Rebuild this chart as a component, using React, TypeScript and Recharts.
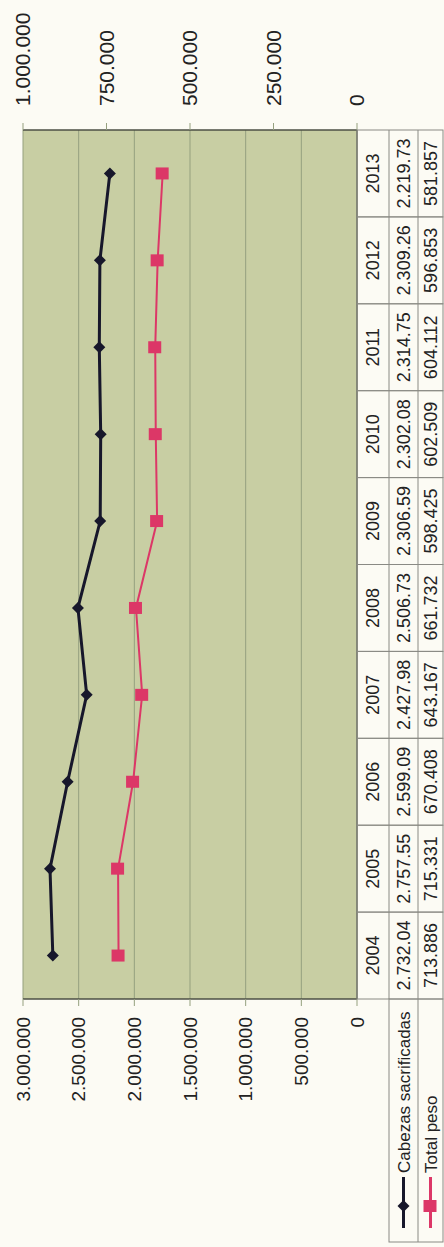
import { CartesianGrid, Line, LineChart, XAxis, YAxis } from "recharts";

const years = ["2004", "2005", "2006", "2007", "2008", "2009", "2010", "2011", "2012", "2013"];
const cabezas = [2732040, 2757550, 2599090, 2427980, 2506730, 2306590, 2302080, 2314750, 2309260, 2219730];
const peso = [713886, 715331, 670408, 643167, 661732, 598425, 602509, 604112, 596853, 581857];
const leftTicks = [0, 500000, 1000000, 1500000, 2000000, 2500000, 3000000];
const rightTicks = [0, 250000, 500000, 750000, 1000000];

const rows = years.map((year, i) => ({ year, cabezas: cabezas[i], peso: peso[i] }));

// chart is drawn landscape and turned a quarter to the left, like the scan
const W = 1247;
const H = 444;
const PLOT_LEFT = 248;
const PLOT_RIGHT = 1117;
const PLOT_TOP = 23;
const PLOT_BOTTOM = 357;
const BAND = (PLOT_RIGHT - PLOT_LEFT) / years.length;
const ROW1 = 389;
const ROW2 = 418;
const ROW3 = 443;

const FONT = '"Liberation Sans", Arial, sans-serif';
const INK = "#222";
const PAGE = "#fcfbf4";
const PLOT_BG = "#c8cea3";
const GRID = "#95a07f";
const FRAME = "#4d4f45";
const TABLE_LINE = "#8a8a84";
const BLACK = "#17172b";
const RED = "#dc3767";

const dots = (v: number) => String(v).replace(/\B(?=(\d{3})+(?!\d))/g, ".");

function Diamond({ cx, cy, r = 6 }: { cx: number; cy: number; r?: number }) {
  return <path d={`M${cx},${cy - r}L${cx + r},${cy}L${cx},${cy + r}L${cx - r},${cy}Z`} fill={BLACK} />;
}

function Square({ cx, cy }: { cx: number; cy: number }) {
  return <rect x={cx - 6} y={cy - 7} width={12} height={13} fill={RED} />;
}

function TableColumn(props: any) {
  const { x, payload } = props;
  const i = years.indexOf(String(payload.value));
  const x0 = x - BAND / 2;
  const txt = { fontFamily: FONT, fontSize: 18, fill: INK, textAnchor: "middle" as const };
  return (
    <g>
      <rect x={x0} y={PLOT_BOTTOM} width={BAND} height={ROW3 - PLOT_BOTTOM} fill="none" stroke={TABLE_LINE} />
      <line x1={x0} x2={x0 + BAND} y1={ROW1} y2={ROW1} stroke={TABLE_LINE} />
      <line x1={x0} x2={x0 + BAND} y1={ROW2} y2={ROW2} stroke={TABLE_LINE} />
      <text x={x} y={(PLOT_BOTTOM + ROW1) / 2 + 6} {...txt}>{years[i]}</text>
      {/* the sheet cut these off at the cell edge */}
      <text x={x} y={(ROW1 + ROW2) / 2 + 6} {...txt}>{dots(cabezas[i]).slice(0, -1)}</text>
      <text x={x} y={(ROW2 + ROW3) / 2 + 6} {...txt}>{dots(peso[i])}</text>
    </g>
  );
}

function LegendColumn() {
  const x0 = 5;
  const mid1 = (ROW1 + ROW2) / 2;
  const mid2 = (ROW2 + ROW3) / 2;
  const txt = { fontFamily: FONT, fontSize: 17, fill: INK };
  return (
    <svg width={W} height={H} style={{ position: "absolute", left: 0, top: 0, pointerEvents: "none" }}>
      <rect x={x0} y={ROW1} width={PLOT_LEFT - x0} height={ROW3 - ROW1} fill="none" stroke={TABLE_LINE} />
      <line x1={x0} x2={PLOT_LEFT} y1={ROW2} y2={ROW2} stroke={TABLE_LINE} />
      <line x1={19} x2={70} y1={mid1} y2={mid1} stroke={BLACK} strokeWidth={3} />
      <Diamond cx={41} cy={mid1} />
      <text x={74} y={mid1 + 6} {...txt}>Cabezas sacrificadas</text>
      <line x1={19} x2={70} y1={mid2} y2={mid2} stroke={RED} strokeWidth={3} />
      <Square cx={41} cy={mid2} />
      <text x={74} y={mid2 + 6} {...txt}>Total peso</text>
    </svg>
  );
}

export default function App() {
  return (
    <div style={{ position: "fixed", left: 0, top: 0, width: H, height: W, background: PAGE, overflow: "hidden" }}>
      <div
        style={{
          position: "absolute",
          left: 0,
          top: 0,
          width: W,
          height: H,
          transformOrigin: "0 0",
          transform: `translateY(${W}px) rotate(-90deg)`,
        }}
      >
        <LineChart width={W} height={H} data={rows} margin={{ top: PLOT_TOP, right: 0, bottom: 0, left: 0 }}>
          <CartesianGrid yAxisId="left" vertical={false} fill={PLOT_BG} fillOpacity={1} stroke={GRID} />
          <XAxis
            dataKey="year"
            height={H - PLOT_BOTTOM}
            padding={{ left: BAND / 2, right: BAND / 2 }}
            axisLine={{ stroke: FRAME }}
            tickLine={false}
            interval={0}
            tick={(p: any) => <TableColumn {...p} />}
          />
          <XAxis
            xAxisId="top"
            orientation="top"
            dataKey="year"
            height={0}
            padding={{ left: BAND / 2, right: BAND / 2 }}
            axisLine={{ stroke: FRAME }}
            tick={false}
            tickLine={false}
          />
          <YAxis
            yAxisId="left"
            width={PLOT_LEFT}
            domain={[0, 3000000]}
            ticks={leftTicks}
            interval={0}
            tickFormatter={dots}
            axisLine={{ stroke: FRAME, strokeWidth: 1.5 }}
            tickLine={{ stroke: GRID }}
            tickSize={7}
            tickMargin={11}
            tick={{ fontFamily: FONT, fontSize: 19, fill: INK }}
          />
          <YAxis
            yAxisId="right"
            orientation="right"
            width={W - PLOT_RIGHT}
            domain={[0, 1000000]}
            ticks={rightTicks}
            interval={0}
            tickFormatter={dots}
            axisLine={{ stroke: FRAME, strokeWidth: 1.5 }}
            tickLine={{ stroke: GRID }}
            tickSize={7}
            tickMargin={17}
            tick={{ fontFamily: FONT, fontSize: 21, fill: INK }}
          />
          <Line
            yAxisId="left"
            dataKey="cabezas"
            stroke={BLACK}
            strokeWidth={3}
            dot={(p: any) => <Diamond key={p.index} cx={p.cx} cy={p.cy} />}
            activeDot={false}
            isAnimationActive={false}
          />
          <Line
            yAxisId="right"
            dataKey="peso"
            stroke={RED}
            strokeWidth={2}
            dot={(p: any) => <Square key={p.index} cx={p.cx} cy={p.cy} />}
            activeDot={false}
            isAnimationActive={false}
          />
        </LineChart>
        <LegendColumn />
      </div>
    </div>
  );
}
